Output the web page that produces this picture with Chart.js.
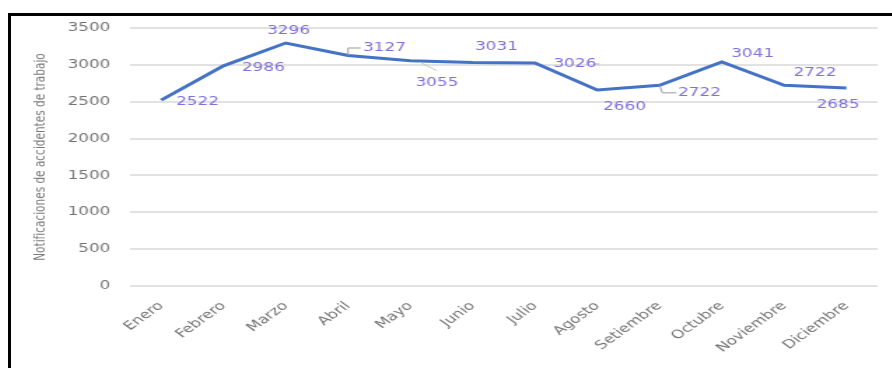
<!DOCTYPE html>
<html lang="es">
<head>
<meta charset="utf-8">
<title>Notificaciones de accidentes de trabajo</title>
<script src="https://cdn.jsdelivr.net/npm/chart.js@4.4.1/dist/chart.umd.min.js"></script>
<style>
  html, body { margin: 0; padding: 0; background: #fff; overflow: hidden; }
  .marco {
    position: absolute; left: 8px; top: 13px; width: 900px; height: 400px;
    border-left: 3px solid #000; border-top: 3px solid #000;
  }
  /* el gráfico se dibuja angosto y se estira a lo ancho */
  .lienzo {
    position: absolute; left: 11px; top: 16px; width: 629px; height: 352px;
    transform: scaleX(1.4); transform-origin: 0 0;
  }
</style>
</head>
<body>
<div class="marco"></div>
<div class="lienzo"><canvas id="lineChart"></canvas></div>
<script>
// Datos
const meses = [
    "Enero", "Febrero", "Marzo", "Abril", "Mayo", "Junio",
    "Julio", "Agosto", "Setiembre", "Octubre", "Noviembre", "Diciembre"
];
const notificaciones = [2522, 2986, 3296, 3127, 3055, 3031, 3026, 2660, 2722, 3041, 2722, 2685];
const ticksY = [0, 500, 1000, 1500, 2000, 2500, 3000, 3500];

// Posición de cada etiqueta respecto a su punto (dx, dy)
const desplazamientos = [
    [26, 2], [28.5, 2], [2, -12], [26, -7.5], [19, 22], [17, -15.5],
    [28.5, 1], [19.5, 17], [28.5, 8], [22, -8], [22, -12], [-6, 17]
];
// Líneas guía de algunas etiquetas
const guias = [
    { i: 3, color: '#9a9a9a', pts: [[0, 0], [0, -7.5], [9, -7.5]] },
    { i: 4, color: '#b9c9b3', pts: [[7, 1.5], [19, 10]] },
    { i: 6, color: '#b0b0b0', pts: [[43, 1], [46, 1]] },
    { i: 8, color: '#9a9a9a', pts: [[0, 0], [2, 7.5], [12, 7.5]] }
];

Chart.defaults.font.family = "'DejaVu Sans', sans-serif";

// Etiquetas de valor sobre la línea
const etiquetas = {
    id: 'etiquetas',
    afterDatasetsDraw(chart) {
        const ctx = chart.ctx;
        const pts = chart.getDatasetMeta(0).data;
        ctx.save();
        ctx.lineWidth = 1;
        guias.forEach(g => {
            const p = pts[g.i];
            ctx.strokeStyle = g.color;
            ctx.beginPath();
            g.pts.forEach(([dx, dy], k) => {
                if (k === 0) ctx.moveTo(p.x + dx, p.y + dy);
                else ctx.lineTo(p.x + dx, p.y + dy);
            });
            ctx.stroke();
        });
        ctx.font = "12px 'DejaVu Sans', sans-serif";
        ctx.fillStyle = '#7d70dc';
        ctx.textAlign = 'center';
        ctx.textBaseline = 'middle';
        pts.forEach((p, i) => {
            const [dx, dy] = desplazamientos[i];
            ctx.fillText(String(notificaciones[i]), p.x + dx, p.y + dy);
        });
        ctx.restore();
    }
};

const config = {
    type: 'line',
    data: {
        labels: meses,
        datasets: [{
            label: 'Notificaciones',
            data: notificaciones,
            borderColor: '#4472C4',
            backgroundColor: '#4472C4',
            borderWidth: 3,
            pointRadius: 0,
            tension: 0,
            fill: false
        }]
    },
    options: {
        animation: false,
        responsive: true,
        maintainAspectRatio: false,
        layout: { padding: { top: 12, right: 10, left: 0, bottom: 0 } },
        plugins: {
            legend: { display: false },
            tooltip: { enabled: false }
        },
        scales: {
            x: {
                offset: true,
                grid: { display: false },
                border: { display: false },
                ticks: {
                    autoSkip: false,
                    minRotation: 45,
                    maxRotation: 45,
                    padding: 5,
                    color: '#737373',
                    font: { size: 12 }
                },
                afterFit: s => { s.height = 82; }
            },
            y: {
                min: 0,
                max: 3500,
                afterBuildTicks: s => { s.ticks = ticksY.map(v => ({ value: v })); },
                ticks: {
                    padding: 14,
                    color: '#737373',
                    font: { size: 12 },
                    callback: v => String(v)
                },
                grid: { color: '#e2e2e2', lineWidth: 2, drawTicks: false },
                border: { display: false },
                title: {
                    display: true,
                    text: 'Notificaciones de accidentes de trabajo',
                    color: '#7a7a7a',
                    font: { size: 10.5 },
                    padding: { top: 15, bottom: 0 }
                },
                afterFit: s => {
                    s.width = 85;
                    s.paddingTop = 0;
                    s.paddingBottom = 0;
                }
            }
        }
    },
    plugins: [etiquetas]
};

const ctx = document.getElementById('lineChart').getContext('2d');
const myChart = new Chart(ctx, config);
</script>
</body>
</html>
